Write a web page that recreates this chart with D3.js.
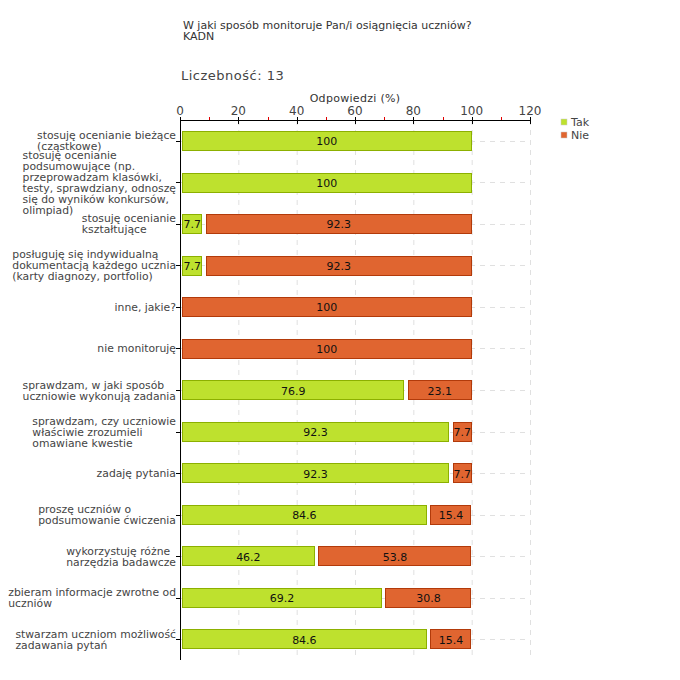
<!DOCTYPE html>
<html><head><meta charset="utf-8">
<script src="https://cdn.jsdelivr.net/npm/d3@7"></script>
<style>body{margin:0;background:#fff;} text{font-family:"DejaVu Sans",Verdana,sans-serif;}</style>
</head><body><svg id="c" width="680" height="680"></svg>
<script>
const categories = [
  ["stosuję ocenianie bieżące","(cząstkowe)"],
  ["stosuję ocenianie","podsumowujące (np.","przeprowadzam klasówki,","testy, sprawdziany, odnoszę","się do wyników konkursów,","olimpiad)"],
  ["stosuję ocenianie","kształtujące"],
  ["posługuję się indywidualną","dokumentacją każdego ucznia","(karty diagnozy, portfolio)"],
  ["inne, jakie?"],
  ["nie monitoruję"],
  ["sprawdzam, w jaki sposób","uczniowie wykonują zadania"],
  ["sprawdzam, czy uczniowie","właściwie zrozumieli","omawiane kwestie"],
  ["zadaję pytania"],
  ["proszę uczniów o","podsumowanie ćwiczenia"],
  ["wykorzystuję różne","narzędzia badawcze"],
  ["zbieram informacje zwrotne od","uczniów"],
  ["stwarzam uczniom możliwość","zadawania pytań"]
];
const tak = [100,100,7.7,7.7,0,0,76.9,92.3,92.3,84.6,46.2,69.2,84.6];
const nie = [0,0,92.3,92.3,100,100,23.1,7.7,7.7,15.4,53.8,30.8,15.4];
const seriesNames = ["Tak","Nie"];
const majorTicks = [0,20,40,60,80,100,120];
const minorTicks = [10,30,50,70,90,110];

const svg = d3.select("#c");
const colors = {Tak:{fill:"#bee12e",stroke:"#8cb000"}, Nie:{fill:"#e06530",stroke:"#b23a0a"}};
const values = {Tak:tak, Nie:nie};
const x = d3.scaleLinear().domain([0,120]).range([180,530]);
const y = d3.scaleBand().domain(d3.range(categories.length)).range([120,660]);
const barH = 19.5;

// titles
svg.append("text").attr("x",183).attr("y",29).attr("font-size",11).attr("fill","#333").text("W jaki sposób monitoruje Pan/i osiągnięcia uczniów?");
svg.append("text").attr("x",183).attr("y",40).attr("font-size",11).attr("fill","#333").text("KADN");
svg.append("text").attr("x",181).attr("y",80).attr("font-size",13).attr("fill","#444").attr("letter-spacing","0.5").text("Liczebność: 13");
svg.append("text").attr("x",355).attr("y",102).attr("text-anchor","middle").attr("font-size",11).attr("fill","#333").attr("letter-spacing","0.3").text("Odpowiedzi (%)");

// grid
const g = svg.append("g");
majorTicks.filter(d=>d>0).forEach(d=>{
  g.append("line").attr("x1",x(d)+0.5).attr("x2",x(d)+0.5).attr("y1",120).attr("y2",660)
   .attr("stroke","#e0e0e0").attr("stroke-dasharray","5,5");
});
categories.forEach((c,i)=>{
  const cy = Math.round(y(i)+y.bandwidth()/2)+0.5;
  g.append("line").attr("x1",180).attr("x2",530).attr("y1",cy).attr("y2",cy)
   .attr("stroke","#e0e0e0").attr("stroke-dasharray","5,5");
});

// top axis
const ax = svg.append("g");
ax.append("line").attr("x1",180).attr("x2",531).attr("y1",120.5).attr("y2",120.5).attr("stroke","#000");
majorTicks.forEach(d=>{
  ax.append("line").attr("x1",Math.round(x(d))+0.5).attr("x2",Math.round(x(d))+0.5).attr("y1",117).attr("y2",124).attr("stroke","#000");
  ax.append("text").attr("x",x(d)).attr("y",115).attr("text-anchor","middle").attr("font-size",12).attr("fill","#444").text(d);
});
minorTicks.forEach(d=>{
  ax.append("line").attr("x1",Math.round(x(d))+0.5).attr("x2",Math.round(x(d))+0.5).attr("y1",117).attr("y2",120).attr("stroke","#e00000");
});
// left axis
ax.append("line").attr("x1",180.5).attr("x2",180.5).attr("y1",120).attr("y2",660).attr("stroke","#000");

// bars
const stacks = d3.stack().keys(seriesNames)(tak.map((t,i)=>({Tak:t,Nie:nie[i]})));
stacks.forEach(s=>{
  s.forEach((d,i)=>{
    const v = values[s.key][i];
    if (v<=0) return;
    const x0 = x(d[0]) + (d[0]>0 ? 3.5 : 2);
    const x1 = x(d[1]);
    const cy = y(i)+y.bandwidth()/2;
    svg.append("rect").attr("x",Math.round(x0)+0.5).attr("y",Math.round(cy-barH/2)+0.5)
      .attr("width",Math.round(x1-x0)-1).attr("height",Math.round(barH)-1)
      .attr("fill",colors[s.key].fill).attr("stroke",colors[s.key].stroke);
    svg.append("text").attr("x",(x0+x1)/2).attr("y",cy+4.5).attr("text-anchor","middle")
      .attr("font-size",11).attr("fill","#111").text(v);
  });
});

// category labels
categories.forEach((lines,i)=>{
  const cy = y(i)+y.bandwidth()/2;
  const lh = 11;
  const t = svg.append("text").attr("font-size",10.8).attr("fill","#444");
  lines.forEach((l,j)=>{
    t.append("tspan").attr("x",0).attr("y",cy - (lines.length-1)*lh/2 + j*lh + 4).text(l);
  });
  const w = d3.max(t.selectAll("tspan").nodes(), n=>n.getComputedTextLength());
  t.selectAll("tspan").attr("x",176-w);
  svg.append("line").attr("x1",176).attr("x2",180).attr("y1",Math.round(cy)+0.5).attr("y2",Math.round(cy)+0.5).attr("stroke","#000");
});

// legend
seriesNames.forEach((n,i)=>{
  svg.append("rect").attr("x",561).attr("y",119+i*13).attr("width",6).attr("height",6)
    .attr("fill",colors[n].fill).attr("stroke","#ccc").attr("stroke-width",0.5);
  svg.append("text").attr("x",571).attr("y",126+i*13).attr("font-size",11).attr("fill","#444").text(n);
});
</script></body></html>
